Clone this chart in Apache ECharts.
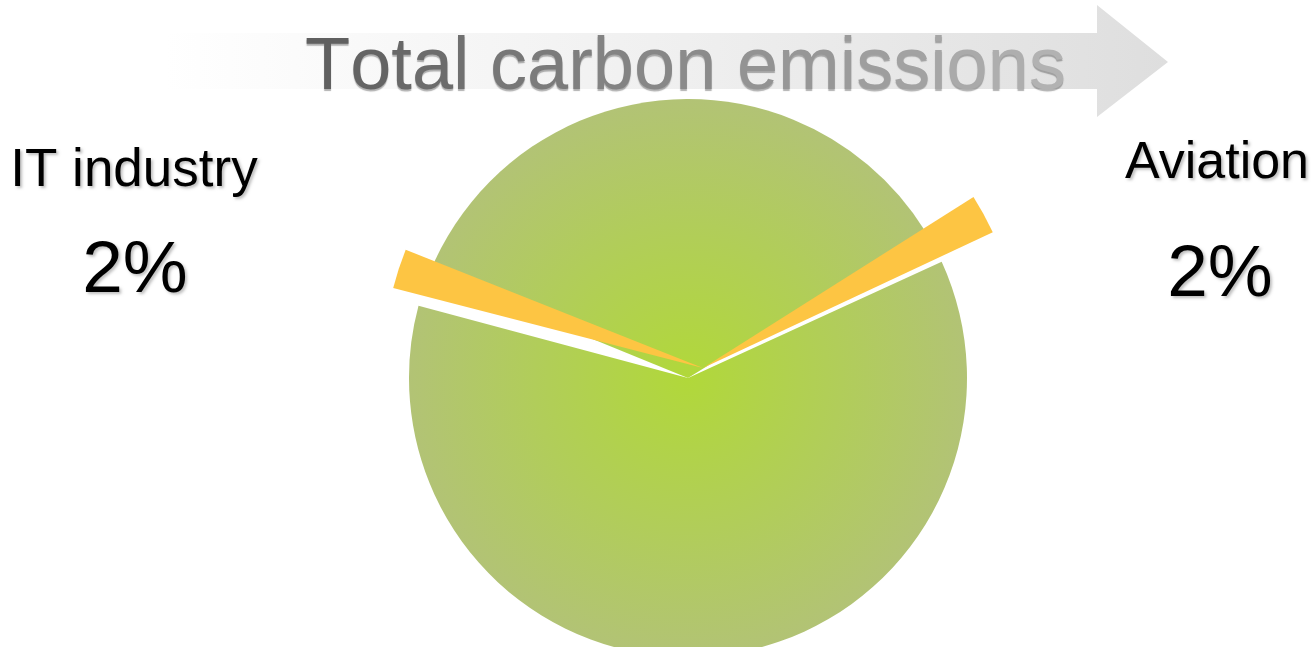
<!DOCTYPE html>
<html>
<head>
<meta charset="utf-8">
<script src="https://cdn.jsdelivr.net/npm/echarts@6/dist/echarts.min.js"></script>
<style>
  html, body { margin: 0; padding: 0; background: #ffffff; }
  #chart { width: 1315px; height: 647px; }
</style>
</head>
<body>
<div id="chart"></div>
<script>
// ---- data ----
const titleText = 'Total carbon emissions';
const categories = ['IT industry', 'Other', 'Aviation', 'Other'];
const shares = [2, 35, 2, 61];           // percent of total carbon emissions
const highlighted = ['IT industry', 'Aviation'];

// ---- styling ----
const FONT = '"Liberation Sans", Arial, sans-serif';
const greenGradient = {
  type: 'radial', x: 688, y: 378, r: 279, global: true,
  colorStops: [
    { offset: 0, color: '#b1d83a' },
    { offset: 0.55, color: '#b1cd5a' },
    { offset: 1, color: '#b2c375' }
  ]
};
const yellow = '#fdc543';
const clear = 'rgba(0,0,0,0)';

// place text so that its alphabetic baseline lands on a given y
const mctx = document.createElement('canvas').getContext('2d');
function midY(baseline, size) {
  mctx.font = size + 'px ' + FONT;
  mctx.textBaseline = 'middle';
  const m = mctx.measureText('H');
  return baseline - m.actualBoundingBoxDescent;
}

const greenData = categories.map((c, i) => ({
  name: c, value: shares[i],
  itemStyle: { color: highlighted.includes(c) ? clear : greenGradient }
}));
const yellowData = categories.map((c, i) => ({
  name: c, value: shares[i],
  itemStyle: { color: highlighted.includes(c) ? yellow : clear }
}));

// title with a left-to-right grey fade, one rich token per character
const rich = {};
let richText = '';
const chars = titleText.split('');
chars.forEach((ch, i) => {
  const t = i / (chars.length - 1);
  const g = Math.round(96 + t * (178 - 96));
  const key = 'c' + i;
  rich[key] = {
    fill: 'rgb(' + g + ',' + g + ',' + g + ')',
    font: '74px ' + FONT,
    textShadowColor: 'rgba(0,0,0,0.3)', textShadowBlur: 1,
    textShadowOffsetX: 0, textShadowOffsetY: 2
  };
  richText += '{' + key + '|' + ch + '}';
});

const labelStyle = (size) => ({
  fill: '#000000', font: size + 'px ' + FONT,
  align: 'center', verticalAlign: 'middle',
  textShadowColor: 'rgba(0,0,0,0.25)', textShadowBlur: 3,
  textShadowOffsetX: 2, textShadowOffsetY: 2
});

const itIdx = categories.indexOf('IT industry');
const avIdx = categories.indexOf('Aviation');

const chart = echarts.init(document.getElementById('chart'), null, { renderer: 'canvas' });
chart.setOption({
  animation: false,
  backgroundColor: '#ffffff',
  graphic: [
    {
      type: 'polygon', z: 0, silent: true,
      shape: { points: [[165, 33], [1097, 33], [1097, 5], [1168, 62], [1097, 117], [1097, 89], [165, 89]] },
      style: {
        fill: {
          type: 'linear', x: 165, y: 0, x2: 1168, y2: 0, global: true,
          colorStops: [
            { offset: 0, color: '#ffffff' },
            { offset: 0.13, color: '#fbfbfb' },
            { offset: 0.55, color: '#eeeeee' },
            { offset: 1, color: '#dedede' }
          ]
        }
      }
    },
    {
      type: 'text', z: 2, silent: true, x: 305, y: midY(89, 74),
      style: { text: richText, rich: rich, font: '74px ' + FONT, align: 'left', verticalAlign: 'middle' }
    },
    { type: 'text', z: 2, silent: true, x: 134, y: midY(186, 53), style: Object.assign({ text: categories[itIdx] }, labelStyle(53)) },
    { type: 'text', z: 2, silent: true, x: 135, y: midY(292, 73), style: Object.assign({ text: shares[itIdx] + '%' }, labelStyle(73)) },
    { type: 'text', z: 2, silent: true, x: 1217, y: midY(178, 52), style: Object.assign({ text: categories[avIdx] }, labelStyle(52)) },
    { type: 'text', z: 2, silent: true, x: 1220, y: midY(296, 73), style: Object.assign({ text: shares[avIdx] + '%' }, labelStyle(73)) }
  ],
  series: [
    {
      type: 'pie', silent: true, z: 1,
      center: [688, 378], radius: [0, 279],
      startAngle: 165, clockwise: true,
      label: { show: false }, labelLine: { show: false },
      emphasis: { disabled: true },
      itemStyle: { borderWidth: 0 },
      data: greenData
    },
    {
      type: 'pie', silent: true, z: 3,
      center: [703, 368], radius: [0, 320],
      startAngle: 165.5, clockwise: true,
      label: { show: false }, labelLine: { show: false },
      emphasis: { disabled: true },
      itemStyle: { borderWidth: 0 },
      data: yellowData
    }
  ]
});
</script>
</body>
</html>
